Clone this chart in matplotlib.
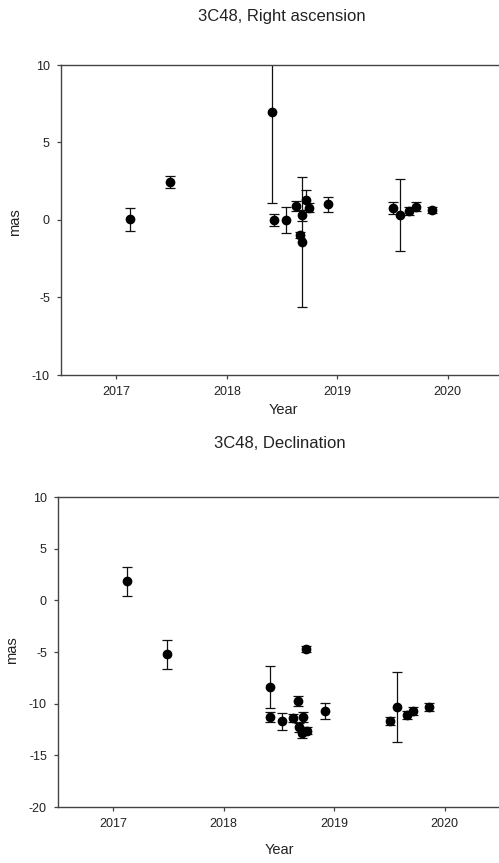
import matplotlib
matplotlib.use('Agg')
import matplotlib.pyplot as plt

# ── 字型 ──────────────────────────────────────────────────────────────────────
plt.rcParams['font.family'] = ['Liberation Sans', 'DejaVu Sans']
plt.rcParams['axes.unicode_minus'] = False  # 原圖用連字號 "-10"

# ── 資料：赤經（Right ascension） ─────────────────────────────────────────────
ra_year = [2017.12, 2017.49, 2018.41, 2018.43, 2018.54, 2018.63, 2018.66,
           2018.68, 2018.68, 2018.72, 2018.74, 2018.92,
           2019.50, 2019.57, 2019.65, 2019.71, 2019.86]
ra_val  = [0.05, 2.45, 6.97, 0.0, 0.0, 0.9, -0.97,
           -1.4, 0.3, 1.3, 0.8, 1.0,
           0.78, 0.32, 0.6, 0.85, 0.65]
ra_err  = [0.75, 0.4, 5.87, 0.4, 0.85, 0.3, 0.2,
           4.2, 0.35, 0.65, 0.3, 0.5,
           0.4, 2.35, 0.25, 0.3, 0.2]

# ── 資料：赤緯（Declination） ─────────────────────────────────────────────────
de_year = [2017.12, 2017.49, 2018.42, 2018.42, 2018.53, 2018.63, 2018.67,
           2018.68, 2018.71, 2018.72, 2018.74, 2018.75, 2018.92,
           2019.50, 2019.57, 2019.66, 2019.71, 2019.86]
de_val  = [1.85, -5.2, -8.4, -11.3, -11.7, -11.4, -9.75,
           -12.3, -12.8, -11.3, -4.7, -12.6, -10.7,
           -11.7, -10.3, -11.1, -10.7, -10.3]
de_err  = [1.4, 1.4, 2.05, 0.5, 0.8, 0.4, 0.45,
           0.4, 0.5, 0.5, 0.3, 0.3, 0.8,
           0.4, 3.4, 0.4, 0.4, 0.4]

x_ticks = [2017, 2018, 2019, 2020]

W, H = 499, 863
fig = plt.figure(figsize=(W / 100, H / 100), dpi=100)

def px_axes(left, top, width, height):
    return fig.add_axes([left / W, 1 - (top + height) / H, width / W, height / H])

def style_axis(ax, ylim, yticks):
    ax.set_xlim(2016.5, 2020.5)
    ax.set_ylim(*ylim)
    ax.set_xticks(x_ticks)
    ax.set_yticks(yticks)
    ax.spines['right'].set_visible(False)
    for s in ['left', 'bottom', 'top']:
        ax.spines[s].set_color('#444444')
        ax.spines[s].set_linewidth(1.0)
    ax.tick_params(axis='both', direction='out', length=3, width=0.9,
                   color='#444444', labelsize=9, labelcolor='#222222')
    ax.tick_params(axis='x', pad=5)
    ax.tick_params(axis='y', pad=5)
    ax.tick_params(top=False, right=False)

def draw(ax, x, y, e):
    ax.errorbar(x, y, yerr=e, fmt='o', color='black', ms=6,
                ecolor='#111111', elinewidth=0.9, capsize=3.6, capthick=0.9)

# ── 上圖：Right ascension ─────────────────────────────────────────────────────
ax1 = px_axes(61, 65, 442, 310)
draw(ax1, ra_year, ra_val, ra_err)
style_axis(ax1, (-10, 10), [-10, -5, 0, 5, 10])
fig.text(282 / W, 1 - 17 / H, '3C48, Right ascension', ha='center', va='center',
         fontsize=12, color='#222222')
fig.text(283 / W, 1 - 410 / H, 'Year', ha='center', va='center',
         fontsize=10.5, color='#222222')
fig.text(15 / W, 1 - 222 / H, 'mas', ha='center', va='center', rotation=90,
         fontsize=10.5, color='#222222')

# ── 下圖：Declination ────────────────────────────────────────────────────────
ax2 = px_axes(58, 497, 442, 310)
draw(ax2, de_year, de_val, de_err)
style_axis(ax2, (-20, 10), [-20, -15, -10, -5, 0, 5, 10])
fig.text(280 / W, 1 - 443 / H, '3C48, Declination', ha='center', va='center',
         fontsize=12, color='#222222')
fig.text(279 / W, 1 - 850 / H, 'Year', ha='center', va='center',
         fontsize=10.5, color='#222222')
fig.text(12 / W, 1 - 650 / H, 'mas', ha='center', va='center', rotation=90,
         fontsize=10.5, color='#222222')

plt.savefig('out.png', dpi=100)
